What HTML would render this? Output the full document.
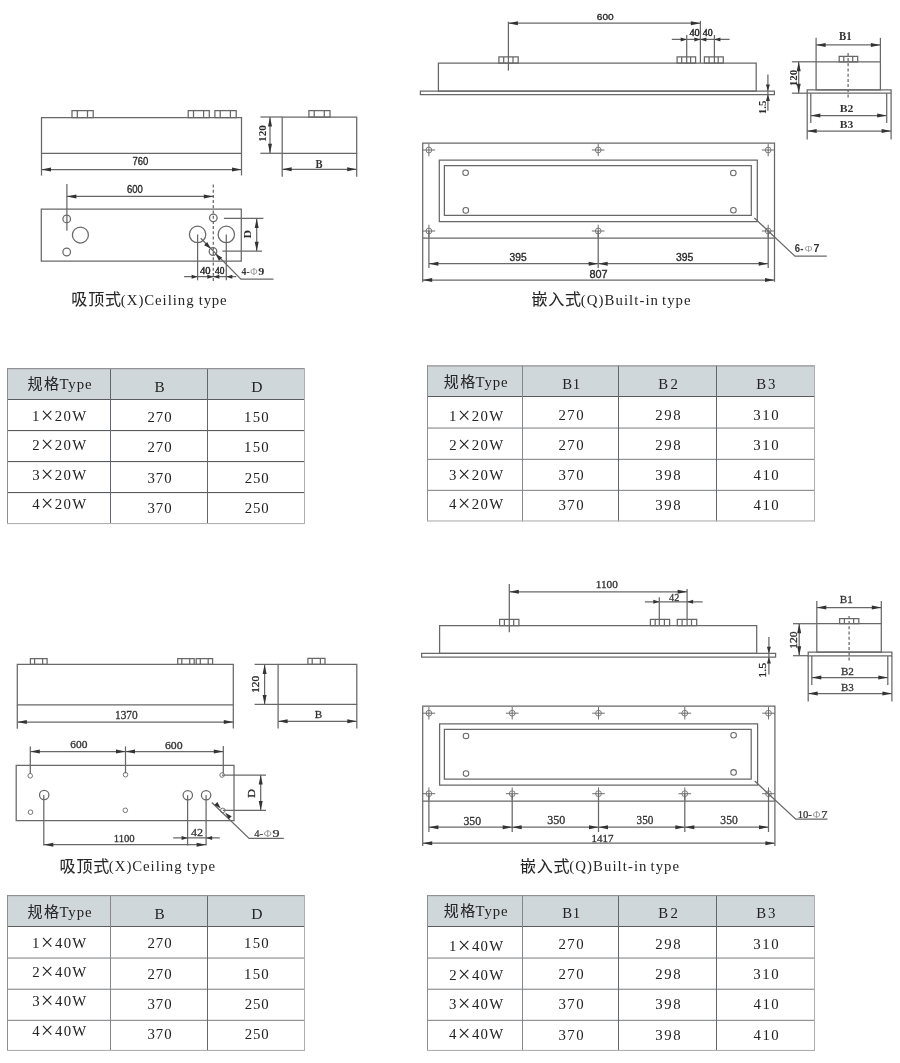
<!DOCTYPE html>
<html lang="zh"><head><meta charset="utf-8"><title>Dimensions</title>
<style>html,body{margin:0;padding:0;background:#fff}svg{display:block;will-change:transform}
.d{fill:none;stroke:#686868;stroke-width:1.25}.d .ar{fill:#333;stroke:none}
text{white-space:pre}</style></head>
<body><svg width="900" height="1063" viewBox="0 0 900 1063">
<g class="d">
<path d="M41.5 117.5H241.5V153.4H41.5Z"/>
<path d="M72.0 110.7H93.2V117.5H72.0Z"/>
<path d="M77.3 110.7L77.3 117.5"/>
<path d="M87.5 110.7L87.5 117.5"/>
<path d="M188.2 110.7H209.3V117.5H188.2Z"/>
<path d="M193.5 110.7L193.5 117.5"/>
<path d="M203.6 110.7L203.6 117.5"/>
<path d="M214.9 110.7H236.2V117.5H214.9Z"/>
<path d="M220.2 110.7L220.2 117.5"/>
<path d="M230.4 110.7L230.4 117.5"/>
<path d="M41.5 153.4L41.5 175.6"/>
<path d="M241.5 153.4L241.5 175.5"/>
<path d="M41.5 169.5L241.5 169.5"/>
<path class="ar" d="M41.5 169.5L51.0 167.5L51.0 171.5Z"/>
<path class="ar" d="M241.5 169.5L232.0 171.5L232.0 167.5Z"/>
<path d="M282.2 117.0H356.7V153.3H282.2Z"/>
<path d="M308.9 110.6H330.0V117.0H308.9Z"/>
<path d="M314.2 110.6L314.2 117.0"/>
<path d="M324.3 110.6L324.3 117.0"/>
<path d="M260.4 117.0L282.2 117.0"/>
<path d="M260.4 153.3L282.2 153.3"/>
<path d="M270.0 117.0L270.0 153.3"/>
<path class="ar" d="M270.0 117.0L272.0 126.5L268.0 126.5Z"/>
<path class="ar" d="M270.0 153.3L268.0 143.8L272.0 143.8Z"/>
<path d="M282.2 153.3L282.2 176.7"/>
<path d="M356.7 153.3L356.7 176.7"/>
<path d="M282.2 169.3L356.7 169.3"/>
<path class="ar" d="M282.2 169.3L291.7 167.3L291.7 171.3Z"/>
<path class="ar" d="M356.7 169.3L347.2 171.3L347.2 167.3Z"/>
<path d="M41.3 209.1H241.3V261.1H41.3Z"/>
<path d="M66.9 184.0L66.9 230.7"/>
<path d="M213.3 184.5L213.3 281.0" stroke-dasharray="3 2.2"/>
<path d="M66.9 196.4L213.3 196.4"/>
<path class="ar" d="M66.9 196.4L76.4 194.4L76.4 198.4Z"/>
<path class="ar" d="M213.3 196.4L203.8 198.4L203.8 194.4Z"/>
<circle cx="66.7" cy="218.9" r="3.8"/>
<circle cx="66.7" cy="252.0" r="3.8"/>
<circle cx="213.3" cy="217.8" r="3.8"/>
<circle cx="213.0" cy="251.5" r="3.8"/>
<circle cx="80.4" cy="235.0" r="8.0"/>
<circle cx="197.6" cy="234.4" r="8.2"/>
<circle cx="226.3" cy="234.4" r="8.2"/>
<path d="M197.6 234.4L197.6 280.3"/>
<path d="M226.3 234.4L226.3 280.3"/>
<path d="M224.0 218.4L263.4 218.4"/>
<path d="M222.5 251.2L262.0 251.2"/>
<path d="M256.7 218.4L256.7 251.2"/>
<path class="ar" d="M256.7 218.4L258.7 227.9L254.7 227.9Z"/>
<path class="ar" d="M256.7 251.2L254.7 241.7L258.7 241.7Z"/>
<path d="M184.1 276.7L236.2 276.7"/>
<path class="ar" d="M197.6 276.7L191.6 278.7L191.6 274.7Z"/>
<path class="ar" d="M213.3 276.7L207.3 278.7L207.3 274.7Z"/>
<path class="ar" d="M213.3 276.7L219.3 274.7L219.3 278.7Z"/>
<path class="ar" d="M226.3 276.7L232.3 274.7L232.3 278.7Z"/>
<path d="M200.7 238.3L240.9 279.1L273.5 279.1"/>
<path class="ar" d="M210.6 248.6L204.1 245.2L207.2 242.1Z"/>
<path class="ar" d="M215.6 254.2L222.1 257.6L219.0 260.7Z"/>
</g>
<text transform="translate(132.51 165.20) scale(0.873 1)" font-family="Liberation Sans" font-size="10.88" fill="#2a2a2a" stroke="#2a2a2a" stroke-width="0.35">760</text>
<text transform="translate(126.92 193.00) scale(0.897 1)" font-family="Liberation Sans" font-size="10.60" fill="#2a2a2a" stroke="#2a2a2a" stroke-width="0.35">600</text>
<text transform="rotate(-90 262.3 133.3) translate(253.71 136.90) scale(1.029 1)" font-family="Liberation Serif" font-size="10.83" font-weight="bold" fill="#2b2b2b">120</text>
<text transform="translate(315.42 168.20) scale(0.890 1)" font-family="Liberation Serif" font-size="11.91" font-weight="bold" fill="#333">B</text>
<text transform="rotate(-90 247.4 234.4) translate(243.29 237.90) scale(1.113 1)" font-family="Liberation Serif" font-size="10.69" font-weight="bold" fill="#2b2b2b">D</text>
<text transform="translate(199.89 274.10) scale(1.008 1)" font-family="Liberation Serif" font-size="10.53" fill="#222" stroke="#222" stroke-width="0.4">40</text>
<text transform="translate(215.02 274.10) scale(0.897 1)" font-family="Liberation Serif" font-size="10.53" fill="#222" stroke="#222" stroke-width="0.4">40</text>
<text transform="translate(241.47 275.20) scale(1.012 1)" font-family="Liberation Serif" font-size="9.72" font-weight="bold" fill="#333">4-</text>
<text transform="translate(250.20 275.20) scale(1.055 1)" font-family="Liberation Serif" font-size="9.47" fill="#9a9a9a">Φ</text>
<text transform="translate(258.27 275.20) scale(1.256 1)" font-family="Liberation Serif" font-size="9.67" font-weight="bold" fill="#333">9</text>
<text x="71.14 88.24 105.02" y="305.2" font-family="'Liberation Sans', 'Noto Sans CJK SC', sans-serif" font-size="16" fill="#262626" stroke="#262626" stroke-width="0.08">吸顶式</text>
<text x="120.85" y="304.70" font-family="Liberation Serif" font-size="14.80" fill="#262626" letter-spacing="0.96">(X)Ceiling</text>
<text x="198.86" y="304.70" font-family="Liberation Serif" font-size="14.80" fill="#262626" letter-spacing="0.73">type</text>
<g class="d">
<path d="M438.4 63.0H756.2V91.0H438.4Z"/>
<path d="M420.4 91.0H774.4V94.6H420.4Z"/>
<path d="M498.9 56.9H518.2V63.0H498.9Z"/>
<path d="M503.7 56.9L503.7 63.0"/>
<path d="M513.0 56.9L513.0 63.0"/>
<path d="M677.1 56.9H695.6V63.0H677.1Z"/>
<path d="M681.7 56.9L681.7 63.0"/>
<path d="M690.6 56.9L690.6 63.0"/>
<path d="M704.4 56.9H723.3V63.0H704.4Z"/>
<path d="M709.1 56.9L709.1 63.0"/>
<path d="M718.2 56.9L718.2 63.0"/>
<path d="M508.4 21.7L508.4 70.6"/>
<path d="M700.4 21.0L700.4 63.0"/>
<path d="M508.4 23.2L700.4 23.2"/>
<path class="ar" d="M508.4 23.2L517.9 21.2L517.9 25.2Z"/>
<path class="ar" d="M700.4 23.2L690.9 25.2L690.9 21.2Z"/>
<path d="M686.7 35.0L686.7 63.9"/>
<path d="M714.4 35.0L714.4 63.9"/>
<path d="M671.8 39.4L729.6 39.4"/>
<path class="ar" d="M686.7 39.4L680.7 41.4L680.7 37.4Z"/>
<path class="ar" d="M700.4 39.4L694.4 41.4L694.4 37.4Z"/>
<path class="ar" d="M700.4 39.4L706.4 37.4L706.4 41.4Z"/>
<path class="ar" d="M714.4 39.4L720.4 37.4L720.4 41.4Z"/>
<path d="M767.9 74.5L767.9 110.7"/>
<path class="ar" d="M767.9 91.0L765.9 84.5L769.9 84.5Z"/>
<path class="ar" d="M767.9 94.6L769.9 101.1L765.9 101.1Z"/>
<path d="M816.1 61.8H880.4V89.9H816.1Z"/>
<path d="M807.2 89.9H891.1V93.2H807.2Z"/>
<path d="M816.1 37.8L816.1 61.8"/>
<path d="M880.4 37.8L880.4 61.8"/>
<path d="M816.1 44.9L880.4 44.9"/>
<path class="ar" d="M816.1 44.9L825.6 42.9L825.6 46.9Z"/>
<path class="ar" d="M880.4 44.9L870.9 46.9L870.9 42.9Z"/>
<path d="M839.2 56.4H857.7V61.8H839.2Z"/>
<path d="M843.8 56.4L843.8 61.8"/>
<path d="M852.7 56.4L852.7 61.8"/>
<path d="M848.1 52.9L848.1 98.2" stroke-dasharray="3 2.2"/>
<path d="M791.9 61.8L816.1 61.8"/>
<path d="M791.9 93.2L807.2 93.2"/>
<path d="M798.7 61.8L798.7 93.2"/>
<path class="ar" d="M798.7 61.8L800.7 71.3L796.7 71.3Z"/>
<path class="ar" d="M798.7 93.2L796.7 83.7L800.7 83.7Z"/>
<path d="M810.8 93.2L810.8 123.1"/>
<path d="M886.7 93.2L886.7 123.1"/>
<path d="M810.8 115.5L886.7 115.5"/>
<path class="ar" d="M810.8 115.5L820.3 113.5L820.3 117.5Z"/>
<path class="ar" d="M886.7 115.5L877.2 117.5L877.2 113.5Z"/>
<path d="M807.2 93.2L807.2 139.5"/>
<path d="M891.1 93.2L891.1 139.5"/>
<path d="M807.2 131.1L891.1 131.1"/>
<path class="ar" d="M807.2 131.1L816.7 129.1L816.7 133.1Z"/>
<path class="ar" d="M891.1 131.1L881.6 133.1L881.6 129.1Z"/>
<path d="M422.7 143.2H774.5V238.2H422.7Z"/>
<path d="M439.3 160.0H757.3V221.7H439.3Z"/>
<path d="M444.4 165.6H751.3V215.4H444.4Z"/>
<circle cx="465.6" cy="172.7" r="2.8" stroke-width="1.05"/>
<circle cx="465.8" cy="210.4" r="2.8" stroke-width="1.05"/>
<circle cx="733.3" cy="173.0" r="2.8" stroke-width="1.05"/>
<circle cx="733.4" cy="210.2" r="2.8" stroke-width="1.05"/>
<circle cx="428.9" cy="150.0" r="2.9" stroke-width="0.85"/>
<path d="M422.6 150.0L435.2 150.0" stroke-width="0.95"/>
<path d="M428.9 143.7L428.9 156.3" stroke-width="0.95"/>
<circle cx="428.9" cy="231.0" r="2.9" stroke-width="0.85"/>
<path d="M422.6 231.0L435.2 231.0" stroke-width="0.95"/>
<path d="M428.9 224.7L428.9 237.3" stroke-width="0.95"/>
<path d="M428.9 231.0L428.9 268.0"/>
<circle cx="598.2" cy="150.0" r="2.9" stroke-width="0.85"/>
<path d="M591.9 150.0L604.5 150.0" stroke-width="0.95"/>
<path d="M598.2 143.7L598.2 156.3" stroke-width="0.95"/>
<circle cx="598.2" cy="231.0" r="2.9" stroke-width="0.85"/>
<path d="M591.9 231.0L604.5 231.0" stroke-width="0.95"/>
<path d="M598.2 224.7L598.2 237.3" stroke-width="0.95"/>
<path d="M598.2 231.0L598.2 268.0"/>
<circle cx="768.2" cy="150.0" r="2.9" stroke-width="0.85"/>
<path d="M761.9 150.0L774.5 150.0" stroke-width="0.95"/>
<path d="M768.2 143.7L768.2 156.3" stroke-width="0.95"/>
<circle cx="768.2" cy="231.0" r="2.9" stroke-width="0.85"/>
<path d="M761.9 231.0L774.5 231.0" stroke-width="0.95"/>
<path d="M768.2 224.7L768.2 237.3" stroke-width="0.95"/>
<path d="M768.2 231.0L768.2 268.0"/>
<path d="M422.7 238.2L422.7 282.2"/>
<path d="M774.5 238.2L774.5 281.8"/>
<path d="M428.9 263.7L768.2 263.7"/>
<path class="ar" d="M428.9 263.7L438.4 261.7L438.4 265.7Z"/>
<path class="ar" d="M598.2 263.7L588.7 265.7L588.7 261.7Z"/>
<path class="ar" d="M598.2 263.7L607.7 261.7L607.7 265.7Z"/>
<path class="ar" d="M768.2 263.7L758.7 265.7L758.7 261.7Z"/>
<path d="M422.7 280.0L774.5 280.0"/>
<path class="ar" d="M422.7 280.0L432.2 278.0L432.2 282.0Z"/>
<path class="ar" d="M774.5 280.0L765.0 282.0L765.0 278.0Z"/>
<path d="M754.4 218.0L794.9 256.1L826.8 256.1"/>
</g>
<text transform="translate(596.79 20.10) scale(1.026 1)" font-family="Liberation Sans" font-size="9.88" fill="#2a2a2a" stroke="#2a2a2a" stroke-width="0.35">600</text>
<text transform="translate(689.40 36.10) scale(0.964 1)" font-family="Liberation Serif" font-size="10.68" fill="#222" stroke="#222" stroke-width="0.4">40</text>
<text transform="translate(702.71 36.10) scale(0.924 1)" font-family="Liberation Serif" font-size="10.68" fill="#222" stroke="#222" stroke-width="0.4">40</text>
<text transform="rotate(-90 762.2 107.1) translate(755.12 110.50) scale(1.062 1)" font-family="Liberation Serif" font-size="10.30" font-weight="bold" fill="#2b2b2b">1.5</text>
<text transform="translate(839.02 40.40) scale(0.941 1)" font-family="Liberation Serif" font-size="11.51" font-weight="bold" fill="#333">B1</text>
<text transform="translate(839.71 112.10) scale(1.095 1)" font-family="Liberation Serif" font-size="10.72" font-weight="bold" fill="#333">B2</text>
<text transform="translate(839.71 128.10) scale(1.134 1)" font-family="Liberation Serif" font-size="10.27" font-weight="bold" fill="#333">B3</text>
<text transform="rotate(-90 793.0 77.8) translate(784.57 81.40) scale(1.009 1)" font-family="Liberation Serif" font-size="10.83" font-weight="bold" fill="#2b2b2b">120</text>
<text transform="translate(509.61 261.10) scale(0.976 1)" font-family="Liberation Sans" font-size="10.45" fill="#2a2a2a" stroke="#2a2a2a" stroke-width="0.35">395</text>
<text transform="translate(676.00 260.60) scale(1.014 1)" font-family="Liberation Sans" font-size="10.31" fill="#2a2a2a" stroke="#2a2a2a" stroke-width="0.35">395</text>
<text transform="translate(589.53 278.40) scale(1.011 1)" font-family="Liberation Sans" font-size="10.74" fill="#2a2a2a" stroke="#2a2a2a" stroke-width="0.35">807</text>
<text transform="translate(794.85 252.20) scale(0.958 1)" font-family="Liberation Sans" font-size="10.03" font-weight="bold" fill="#333">6-</text>
<text transform="translate(804.42 252.20) scale(1.074 1)" font-family="Liberation Sans" font-size="9.53" fill="#9a9a9a">Φ</text>
<text transform="translate(813.54 252.20) scale(1.047 1)" font-family="Liberation Sans" font-size="10.17" font-weight="bold" fill="#333">7</text>
<text x="531.48 548.16 565.02" y="305.3" font-family="'Liberation Sans', 'Noto Sans CJK SC', sans-serif" font-size="16" fill="#262626" stroke="#262626" stroke-width="0.08">嵌入式</text>
<text x="580.85" y="304.80" font-family="Liberation Serif" font-size="14.80" fill="#262626" letter-spacing="1.06">(Q)Built-in</text>
<text x="662.06" y="304.80" font-family="Liberation Serif" font-size="14.80" fill="#262626" letter-spacing="0.99">type</text>
<rect x="7" y="368" width="298" height="31" fill="#d0d7db"/>
<rect x="7" y="399" width="298" height="1" fill="#595b5d"/>
<rect x="7" y="430" width="298" height="1.1" fill="#595b5d"/>
<rect x="7" y="461" width="298" height="1.1" fill="#595b5d"/>
<rect x="7" y="492" width="298" height="1.1" fill="#595b5d"/>
<rect x="110" y="368" width="1" height="156" fill="#63666a"/>
<rect x="207" y="368" width="1" height="156" fill="#63666a"/>
<rect x="7" y="368" width="298" height="1.2" fill="#929294"/>
<rect x="7" y="368" width="1" height="156" fill="#8e8e90"/>
<rect x="304" y="368" width="1" height="156" fill="#adadaf"/>
<rect x="7" y="523" width="298" height="1.1" fill="#b0b0b2"/>
<text x="27.54 44.06" y="389.45" font-family="'Liberation Sans', 'Noto Sans CJK SC', sans-serif" font-size="15" fill="#262626" stroke="#262626" stroke-width="0.075">规格</text>
<text x="59.43" y="389.20" font-family="Liberation Serif" font-size="14.80" fill="#222" letter-spacing="0.92">Type</text>
<text transform="translate(31.99 421.20) scale(1.000 1)" font-family="Liberation Serif" font-size="14.80" fill="#222">1</text>
<text x="40.81" y="423.22" font-family="Liberation Serif" font-size="22.60" fill="#262626">×</text>
<text x="54.75" y="421.20" font-family="Liberation Serif" font-size="14.80" fill="#222" letter-spacing="1.36">20W</text>
<text transform="translate(32.28 450.20) scale(1.000 1)" font-family="Liberation Serif" font-size="14.80" fill="#222">2</text>
<text x="40.81" y="452.22" font-family="Liberation Serif" font-size="22.60" fill="#262626">×</text>
<text x="54.75" y="450.20" font-family="Liberation Serif" font-size="14.80" fill="#222" letter-spacing="1.36">20W</text>
<text transform="translate(32.13 479.60) scale(1.000 1)" font-family="Liberation Serif" font-size="14.80" fill="#222">3</text>
<text x="40.81" y="481.62" font-family="Liberation Serif" font-size="22.60" fill="#262626">×</text>
<text x="54.75" y="479.60" font-family="Liberation Serif" font-size="14.80" fill="#222" letter-spacing="1.36">20W</text>
<text transform="translate(32.17 508.70) scale(1.000 1)" font-family="Liberation Serif" font-size="14.80" fill="#222">4</text>
<text x="40.81" y="510.72" font-family="Liberation Serif" font-size="22.60" fill="#262626">×</text>
<text x="54.75" y="508.70" font-family="Liberation Serif" font-size="14.80" fill="#222" letter-spacing="1.36">20W</text>
<text transform="translate(154.56 391.90) scale(1.032 1)" font-family="Liberation Serif" font-size="14.80" fill="#222">B</text>
<text transform="translate(251.25 391.90) scale(1.055 1)" font-family="Liberation Serif" font-size="14.80" fill="#222">D</text>
<text x="147.55" y="421.60" font-family="Liberation Serif" font-size="14.80" fill="#222" letter-spacing="0.91">270</text>
<text x="244.10" y="421.60" font-family="Liberation Serif" font-size="14.80" fill="#222" letter-spacing="1.23">150</text>
<text x="147.55" y="452.20" font-family="Liberation Serif" font-size="14.80" fill="#222" letter-spacing="0.91">270</text>
<text x="244.10" y="452.20" font-family="Liberation Serif" font-size="14.80" fill="#222" letter-spacing="1.23">150</text>
<text x="147.49" y="482.60" font-family="Liberation Serif" font-size="14.80" fill="#222" letter-spacing="0.94">370</text>
<text x="244.75" y="482.60" font-family="Liberation Serif" font-size="14.80" fill="#222" letter-spacing="0.91">250</text>
<text x="147.49" y="512.80" font-family="Liberation Serif" font-size="14.80" fill="#222" letter-spacing="0.94">370</text>
<text x="244.75" y="512.80" font-family="Liberation Serif" font-size="14.80" fill="#222" letter-spacing="0.91">250</text>
<rect x="7" y="895" width="298" height="31" fill="#d0d7db"/>
<rect x="7" y="926" width="298" height="1" fill="#595b5d"/>
<rect x="7" y="957.5" width="298" height="1.1" fill="#868889"/>
<rect x="7" y="988.7" width="298" height="1.1" fill="#868889"/>
<rect x="7" y="1019.8" width="298" height="1.1" fill="#868889"/>
<rect x="110" y="895" width="1" height="155.9000000000001" fill="#85878a"/>
<rect x="207" y="895" width="1" height="155.9000000000001" fill="#63666a"/>
<rect x="7" y="895" width="298" height="1.2" fill="#929294"/>
<rect x="7" y="895" width="1" height="155.9000000000001" fill="#8e8e90"/>
<rect x="304" y="895" width="1" height="155.9000000000001" fill="#adadaf"/>
<rect x="7" y="1049.9" width="298" height="1.1" fill="#b0b0b2"/>
<text x="27.54 44.06" y="916.75" font-family="'Liberation Sans', 'Noto Sans CJK SC', sans-serif" font-size="15" fill="#262626" stroke="#262626" stroke-width="0.075">规格</text>
<text x="59.43" y="916.50" font-family="Liberation Serif" font-size="14.80" fill="#222" letter-spacing="0.92">Type</text>
<text transform="translate(31.99 947.70) scale(1.000 1)" font-family="Liberation Serif" font-size="14.80" fill="#222">1</text>
<text x="40.81" y="949.72" font-family="Liberation Serif" font-size="22.60" fill="#262626">×</text>
<text x="55.11" y="947.70" font-family="Liberation Serif" font-size="14.80" fill="#222" letter-spacing="1.17">40W</text>
<text transform="translate(32.28 977.00) scale(1.000 1)" font-family="Liberation Serif" font-size="14.80" fill="#222">2</text>
<text x="40.81" y="979.02" font-family="Liberation Serif" font-size="22.60" fill="#262626">×</text>
<text x="55.11" y="977.00" font-family="Liberation Serif" font-size="14.80" fill="#222" letter-spacing="1.17">40W</text>
<text transform="translate(32.13 1006.30) scale(1.000 1)" font-family="Liberation Serif" font-size="14.80" fill="#222">3</text>
<text x="40.81" y="1008.32" font-family="Liberation Serif" font-size="22.60" fill="#262626">×</text>
<text x="55.11" y="1006.30" font-family="Liberation Serif" font-size="14.80" fill="#222" letter-spacing="1.17">40W</text>
<text transform="translate(32.17 1035.70) scale(1.000 1)" font-family="Liberation Serif" font-size="14.80" fill="#222">4</text>
<text x="40.81" y="1037.72" font-family="Liberation Serif" font-size="22.60" fill="#262626">×</text>
<text x="55.11" y="1035.70" font-family="Liberation Serif" font-size="14.80" fill="#222" letter-spacing="1.17">40W</text>
<text transform="translate(154.56 919.20) scale(1.032 1)" font-family="Liberation Serif" font-size="14.80" fill="#222">B</text>
<text transform="translate(251.25 919.00) scale(1.055 1)" font-family="Liberation Serif" font-size="14.80" fill="#222">D</text>
<text x="147.55" y="948.10" font-family="Liberation Serif" font-size="14.80" fill="#222" letter-spacing="0.91">270</text>
<text x="244.10" y="948.10" font-family="Liberation Serif" font-size="14.80" fill="#222" letter-spacing="1.23">150</text>
<text x="147.55" y="978.60" font-family="Liberation Serif" font-size="14.80" fill="#222" letter-spacing="0.91">270</text>
<text x="244.10" y="978.60" font-family="Liberation Serif" font-size="14.80" fill="#222" letter-spacing="1.23">150</text>
<text x="147.49" y="1008.90" font-family="Liberation Serif" font-size="14.80" fill="#222" letter-spacing="0.94">370</text>
<text x="244.75" y="1008.90" font-family="Liberation Serif" font-size="14.80" fill="#222" letter-spacing="0.91">250</text>
<text x="147.49" y="1039.30" font-family="Liberation Serif" font-size="14.80" fill="#222" letter-spacing="0.94">370</text>
<text x="244.75" y="1039.30" font-family="Liberation Serif" font-size="14.80" fill="#222" letter-spacing="0.91">250</text>
<rect x="427" y="365.3" width="388" height="30.69999999999999" fill="#d0d7db"/>
<rect x="427" y="396" width="388" height="1" fill="#595b5d"/>
<rect x="427" y="427.5" width="388" height="1.1" fill="#868889"/>
<rect x="427" y="458.8" width="388" height="1.1" fill="#868889"/>
<rect x="427" y="489.8" width="388" height="1.1" fill="#868889"/>
<rect x="522" y="365.3" width="1" height="156.09999999999997" fill="#85878a"/>
<rect x="618" y="365.3" width="1" height="156.09999999999997" fill="#63666a"/>
<rect x="716" y="365.3" width="1" height="156.09999999999997" fill="#63666a"/>
<rect x="427" y="365.3" width="388" height="1.2" fill="#929294"/>
<rect x="427" y="365.3" width="1" height="156.09999999999997" fill="#8e8e90"/>
<rect x="814" y="365.3" width="1" height="156.09999999999997" fill="#adadaf"/>
<rect x="427" y="520.4" width="388" height="1.1" fill="#b0b0b2"/>
<text x="443.64 460.16" y="387.05" font-family="'Liberation Sans', 'Noto Sans CJK SC', sans-serif" font-size="15" fill="#262626" stroke="#262626" stroke-width="0.075">规格</text>
<text x="475.53" y="386.80" font-family="Liberation Serif" font-size="14.80" fill="#222" letter-spacing="0.92">Type</text>
<text transform="translate(448.89 420.50) scale(1.000 1)" font-family="Liberation Serif" font-size="14.80" fill="#222">1</text>
<text x="457.71" y="422.52" font-family="Liberation Serif" font-size="22.60" fill="#262626">×</text>
<text x="471.65" y="420.50" font-family="Liberation Serif" font-size="14.80" fill="#222" letter-spacing="1.36">20W</text>
<text transform="translate(449.18 450.40) scale(1.000 1)" font-family="Liberation Serif" font-size="14.80" fill="#222">2</text>
<text x="457.71" y="452.42" font-family="Liberation Serif" font-size="22.60" fill="#262626">×</text>
<text x="471.65" y="450.40" font-family="Liberation Serif" font-size="14.80" fill="#222" letter-spacing="1.36">20W</text>
<text transform="translate(449.03 479.60) scale(1.000 1)" font-family="Liberation Serif" font-size="14.80" fill="#222">3</text>
<text x="457.71" y="481.62" font-family="Liberation Serif" font-size="22.60" fill="#262626">×</text>
<text x="471.65" y="479.60" font-family="Liberation Serif" font-size="14.80" fill="#222" letter-spacing="1.36">20W</text>
<text transform="translate(449.07 508.70) scale(1.000 1)" font-family="Liberation Serif" font-size="14.80" fill="#222">4</text>
<text x="457.71" y="510.72" font-family="Liberation Serif" font-size="22.60" fill="#262626">×</text>
<text x="471.65" y="508.70" font-family="Liberation Serif" font-size="14.80" fill="#222" letter-spacing="1.36">20W</text>
<text x="562.17" y="388.90" font-family="Liberation Serif" font-size="14.80" fill="#222" letter-spacing="0.64">B1</text>
<text x="658.37" y="388.90" font-family="Liberation Serif" font-size="14.80" fill="#222" letter-spacing="2.37">B2</text>
<text x="756.37" y="388.90" font-family="Liberation Serif" font-size="14.80" fill="#222" letter-spacing="1.73">B3</text>
<text x="558.55" y="419.60" font-family="Liberation Serif" font-size="14.80" fill="#222" letter-spacing="1.41">270</text>
<text x="655.25" y="419.60" font-family="Liberation Serif" font-size="14.80" fill="#222" letter-spacing="1.61">298</text>
<text x="753.19" y="419.60" font-family="Liberation Serif" font-size="14.80" fill="#222" letter-spacing="1.64">310</text>
<text x="558.55" y="449.50" font-family="Liberation Serif" font-size="14.80" fill="#222" letter-spacing="1.41">270</text>
<text x="655.25" y="449.50" font-family="Liberation Serif" font-size="14.80" fill="#222" letter-spacing="1.61">298</text>
<text x="753.19" y="449.50" font-family="Liberation Serif" font-size="14.80" fill="#222" letter-spacing="1.64">310</text>
<text x="558.49" y="479.80" font-family="Liberation Serif" font-size="14.80" fill="#222" letter-spacing="1.44">370</text>
<text x="655.19" y="479.80" font-family="Liberation Serif" font-size="14.80" fill="#222" letter-spacing="1.64">398</text>
<text x="753.61" y="479.80" font-family="Liberation Serif" font-size="14.80" fill="#222" letter-spacing="1.43">410</text>
<text x="558.49" y="510.20" font-family="Liberation Serif" font-size="14.80" fill="#222" letter-spacing="1.44">370</text>
<text x="655.19" y="510.20" font-family="Liberation Serif" font-size="14.80" fill="#222" letter-spacing="1.64">398</text>
<text x="753.61" y="510.20" font-family="Liberation Serif" font-size="14.80" fill="#222" letter-spacing="1.43">410</text>
<rect x="427" y="895" width="388" height="31" fill="#d0d7db"/>
<rect x="427" y="926" width="388" height="1" fill="#595b5d"/>
<rect x="427" y="957.5" width="388" height="1.1" fill="#868889"/>
<rect x="427" y="988.7" width="388" height="1.1" fill="#868889"/>
<rect x="427" y="1019.8" width="388" height="1.1" fill="#868889"/>
<rect x="522" y="895" width="1" height="155.9000000000001" fill="#85878a"/>
<rect x="618" y="895" width="1" height="155.9000000000001" fill="#63666a"/>
<rect x="716" y="895" width="1" height="155.9000000000001" fill="#63666a"/>
<rect x="427" y="895" width="388" height="1.2" fill="#929294"/>
<rect x="427" y="895" width="1" height="155.9000000000001" fill="#8e8e90"/>
<rect x="814" y="895" width="1" height="155.9000000000001" fill="#adadaf"/>
<rect x="427" y="1049.9" width="388" height="1.1" fill="#b0b0b2"/>
<text x="443.64 460.16" y="916.35" font-family="'Liberation Sans', 'Noto Sans CJK SC', sans-serif" font-size="15" fill="#262626" stroke="#262626" stroke-width="0.075">规格</text>
<text x="475.53" y="916.10" font-family="Liberation Serif" font-size="14.80" fill="#222" letter-spacing="0.92">Type</text>
<text transform="translate(448.89 950.50) scale(1.000 1)" font-family="Liberation Serif" font-size="14.80" fill="#222">1</text>
<text x="457.71" y="952.52" font-family="Liberation Serif" font-size="22.60" fill="#262626">×</text>
<text x="472.01" y="950.50" font-family="Liberation Serif" font-size="14.80" fill="#222" letter-spacing="1.17">40W</text>
<text transform="translate(449.18 979.70) scale(1.000 1)" font-family="Liberation Serif" font-size="14.80" fill="#222">2</text>
<text x="457.71" y="981.72" font-family="Liberation Serif" font-size="22.60" fill="#262626">×</text>
<text x="472.01" y="979.70" font-family="Liberation Serif" font-size="14.80" fill="#222" letter-spacing="1.17">40W</text>
<text transform="translate(449.03 1008.90) scale(1.000 1)" font-family="Liberation Serif" font-size="14.80" fill="#222">3</text>
<text x="457.71" y="1010.92" font-family="Liberation Serif" font-size="22.60" fill="#262626">×</text>
<text x="472.01" y="1008.90" font-family="Liberation Serif" font-size="14.80" fill="#222" letter-spacing="1.17">40W</text>
<text transform="translate(449.07 1038.50) scale(1.000 1)" font-family="Liberation Serif" font-size="14.80" fill="#222">4</text>
<text x="457.71" y="1040.52" font-family="Liberation Serif" font-size="22.60" fill="#262626">×</text>
<text x="472.01" y="1038.50" font-family="Liberation Serif" font-size="14.80" fill="#222" letter-spacing="1.17">40W</text>
<text x="562.17" y="918.40" font-family="Liberation Serif" font-size="14.80" fill="#222" letter-spacing="0.64">B1</text>
<text x="658.37" y="918.40" font-family="Liberation Serif" font-size="14.80" fill="#222" letter-spacing="2.37">B2</text>
<text x="756.37" y="918.40" font-family="Liberation Serif" font-size="14.80" fill="#222" letter-spacing="1.73">B3</text>
<text x="558.55" y="949.20" font-family="Liberation Serif" font-size="14.80" fill="#222" letter-spacing="1.41">270</text>
<text x="655.25" y="949.20" font-family="Liberation Serif" font-size="14.80" fill="#222" letter-spacing="1.61">298</text>
<text x="753.19" y="949.20" font-family="Liberation Serif" font-size="14.80" fill="#222" letter-spacing="1.64">310</text>
<text x="558.55" y="979.00" font-family="Liberation Serif" font-size="14.80" fill="#222" letter-spacing="1.41">270</text>
<text x="655.25" y="979.00" font-family="Liberation Serif" font-size="14.80" fill="#222" letter-spacing="1.61">298</text>
<text x="753.19" y="979.00" font-family="Liberation Serif" font-size="14.80" fill="#222" letter-spacing="1.64">310</text>
<text x="558.49" y="1009.40" font-family="Liberation Serif" font-size="14.80" fill="#222" letter-spacing="1.44">370</text>
<text x="655.19" y="1009.40" font-family="Liberation Serif" font-size="14.80" fill="#222" letter-spacing="1.64">398</text>
<text x="753.61" y="1009.40" font-family="Liberation Serif" font-size="14.80" fill="#222" letter-spacing="1.43">410</text>
<text x="558.49" y="1039.70" font-family="Liberation Serif" font-size="14.80" fill="#222" letter-spacing="1.44">370</text>
<text x="655.19" y="1039.70" font-family="Liberation Serif" font-size="14.80" fill="#222" letter-spacing="1.64">398</text>
<text x="753.61" y="1039.70" font-family="Liberation Serif" font-size="14.80" fill="#222" letter-spacing="1.43">410</text>
<g class="d">
<path d="M17.3 664.4H233.3V704.9H17.3Z"/>
<path d="M30.4 658.6H47.1V664.4H30.4Z"/>
<path d="M34.6 658.6L34.6 664.4"/>
<path d="M42.6 658.6L42.6 664.4"/>
<path d="M177.7 658.6H194.2V664.4H177.7Z"/>
<path d="M181.8 658.6L181.8 664.4"/>
<path d="M189.7 658.6L189.7 664.4"/>
<path d="M196.2 658.6H212.6V664.4H196.2Z"/>
<path d="M200.3 658.6L200.3 664.4"/>
<path d="M208.2 658.6L208.2 664.4"/>
<path d="M17.3 704.9L17.3 728.8"/>
<path d="M233.3 704.9L233.3 728.6"/>
<path d="M17.3 722.0L233.3 722.0"/>
<path class="ar" d="M17.3 722.0L26.8 720.0L26.8 724.0Z"/>
<path class="ar" d="M233.3 722.0L223.8 724.0L223.8 720.0Z"/>
<path d="M278.1 664.4H356.8V704.4H278.1Z"/>
<path d="M307.9 658.4H325.0V664.4H307.9Z"/>
<path d="M312.2 658.4L312.2 664.4"/>
<path d="M320.4 658.4L320.4 664.4"/>
<path d="M254.6 664.4L278.1 664.4"/>
<path d="M254.6 704.4L278.1 704.4"/>
<path d="M264.6 664.4L264.6 704.4"/>
<path class="ar" d="M264.6 664.4L266.6 673.9L262.6 673.9Z"/>
<path class="ar" d="M264.6 704.4L262.6 694.9L266.6 694.9Z"/>
<path d="M278.1 704.4L278.1 728.5"/>
<path d="M356.8 704.4L356.8 728.5"/>
<path d="M278.1 721.3L356.8 721.3"/>
<path class="ar" d="M278.1 721.3L287.6 719.3L287.6 723.3Z"/>
<path class="ar" d="M356.8 721.3L347.3 723.3L347.3 719.3Z"/>
<path d="M16.2 765.3H234.0V820.6H16.2Z"/>
<path d="M30.3 746.5L30.3 773.7"/>
<path d="M125.5 746.5L125.5 773.3"/>
<path d="M223.3 746.0L223.3 773.6"/>
<path d="M30.3 751.5L223.3 751.5"/>
<path class="ar" d="M30.3 751.5L39.8 749.5L39.8 753.5Z"/>
<path class="ar" d="M125.5 751.5L116.0 753.5L116.0 749.5Z"/>
<path class="ar" d="M125.5 751.5L135.0 749.5L135.0 753.5Z"/>
<path class="ar" d="M223.3 751.5L213.8 753.5L213.8 749.5Z"/>
<circle cx="30.2" cy="775.8" r="2.3" stroke-width="0.9"/>
<circle cx="125.5" cy="774.7" r="2.3" stroke-width="0.9"/>
<circle cx="222.1" cy="775.0" r="2.3" stroke-width="0.9"/>
<circle cx="30.5" cy="812.2" r="2.3" stroke-width="0.9"/>
<circle cx="125.3" cy="810.3" r="2.3" stroke-width="0.9"/>
<circle cx="222.8" cy="810.4" r="2.3" stroke-width="0.9"/>
<circle cx="44.2" cy="795.0" r="4.7"/>
<circle cx="187.8" cy="795.2" r="4.7"/>
<circle cx="206.1" cy="795.2" r="4.7"/>
<path d="M43.8 795.0L43.8 845.5"/>
<path d="M187.6 795.2L187.6 845.6"/>
<path d="M206.1 795.2L206.1 845.6"/>
<path d="M43.8 844.7L206.1 844.7"/>
<path class="ar" d="M43.8 844.7L53.3 842.7L53.3 846.7Z"/>
<path class="ar" d="M206.1 844.7L196.6 846.7L196.6 842.7Z"/>
<path d="M173.2 837.9L219.8 837.9"/>
<path class="ar" d="M187.6 837.9L181.6 839.9L181.6 835.9Z"/>
<path class="ar" d="M206.1 837.9L212.1 835.9L212.1 839.9Z"/>
<path d="M222.0 775.0L266.0 775.0"/>
<path d="M222.8 810.4L266.0 810.4"/>
<path d="M260.7 775.0L260.7 810.4"/>
<path class="ar" d="M260.7 775.0L262.7 784.5L258.7 784.5Z"/>
<path class="ar" d="M260.7 810.4L258.7 800.9L262.7 800.9Z"/>
<path d="M211.8 802.5L249.1 838.4L283.8 838.4"/>
<path class="ar" d="M220.8 808.4L214.3 805.0L217.4 801.9Z"/>
<path class="ar" d="M225.2 812.8L231.7 816.2L228.6 819.3Z"/>
</g>
<text transform="translate(115.00 719.30) scale(0.982 1)" font-family="Liberation Serif" font-size="11.58" fill="#333" stroke="#333" stroke-width="0.3">1370</text>
<text transform="rotate(-90 255.0 684.0) translate(246.20 687.60) scale(1.049 1)" font-family="Liberation Serif" font-size="10.83" fill="#2b2b2b" stroke="#2b2b2b" stroke-width="0.3">120</text>
<text transform="translate(314.78 717.80) scale(1.018 1)" font-family="Liberation Serif" font-size="11.00" fill="#333" stroke="#333" stroke-width="0.25">B</text>
<text transform="translate(70.31 747.80) scale(1.055 1)" font-family="Liberation Serif" font-size="10.83" fill="#333" stroke="#333" stroke-width="0.3">600</text>
<text transform="translate(164.99 748.70) scale(1.087 1)" font-family="Liberation Serif" font-size="10.83" fill="#333" stroke="#333" stroke-width="0.3">600</text>
<text transform="translate(113.76 841.50) scale(1.014 1)" font-family="Liberation Serif" font-size="10.53" fill="#333" stroke="#333" stroke-width="0.3">1100</text>
<text transform="translate(191.06 836.30) scale(1.162 1)" font-family="Liberation Serif" font-size="10.42" fill="#333" stroke="#333" stroke-width="0.25">42</text>
<text transform="rotate(-90 251.6 793.6) translate(247.36 797.10) scale(1.117 1)" font-family="Liberation Serif" font-size="10.69" fill="#2b2b2b" stroke="#2b2b2b" stroke-width="0.3">D</text>
<text transform="translate(254.19 837.20) scale(1.021 1)" font-family="Liberation Serif" font-size="10.33" fill="#333" stroke="#333" stroke-width="0.25">4-</text>
<text transform="translate(263.67 837.20) scale(1.114 1)" font-family="Liberation Serif" font-size="9.77" fill="#9a9a9a">Φ</text>
<text transform="translate(272.55 837.20) scale(1.369 1)" font-family="Liberation Serif" font-size="10.27" fill="#333" stroke="#333" stroke-width="0.25">9</text>
<text x="59.44 76.44 93.32" y="871.9" font-family="'Liberation Sans', 'Noto Sans CJK SC', sans-serif" font-size="16" fill="#262626" stroke="#262626" stroke-width="0.08">吸顶式</text>
<text x="108.85" y="871.20" font-family="Liberation Serif" font-size="14.80" fill="#262626" letter-spacing="0.96">(X)Ceiling</text>
<text x="186.86" y="871.20" font-family="Liberation Serif" font-size="14.80" fill="#262626" letter-spacing="0.89">type</text>
<g class="d">
<path d="M439.6 625.6H756.7V653.3H439.6Z"/>
<path d="M421.6 653.3H775.6V657.1H421.6Z"/>
<path d="M499.6 619.3H518.9V625.6H499.6Z"/>
<path d="M504.4 619.3L504.4 625.6"/>
<path d="M513.7 619.3L513.7 625.6"/>
<path d="M650.4 619.3H669.6V625.6H650.4Z"/>
<path d="M655.2 619.3L655.2 625.6"/>
<path d="M664.4 619.3L664.4 625.6"/>
<path d="M677.3 619.3H696.7V625.6H677.3Z"/>
<path d="M682.1 619.3L682.1 625.6"/>
<path d="M691.5 619.3L691.5 625.6"/>
<path d="M509.3 584.0L509.3 632.2"/>
<path d="M687.1 588.9L687.1 625.6"/>
<path d="M509.3 591.8L687.1 591.8"/>
<path class="ar" d="M509.3 591.8L518.8 589.8L518.8 593.8Z"/>
<path class="ar" d="M687.1 591.8L677.6 593.8L677.6 589.8Z"/>
<path d="M659.3 597.3L659.3 625.6"/>
<path d="M644.9 601.8L702.7 601.8"/>
<path class="ar" d="M659.3 601.8L653.3 603.8L653.3 599.8Z"/>
<path class="ar" d="M687.1 601.8L693.1 599.8L693.1 603.8Z"/>
<path d="M768.9 637.1L768.9 674.4"/>
<path class="ar" d="M768.9 653.3L766.9 646.8L770.9 646.8Z"/>
<path class="ar" d="M768.9 657.1L770.9 663.6L766.9 663.6Z"/>
<path d="M816.8 623.7H881.3V652.0H816.8Z"/>
<path d="M808.2 652.0H891.9V655.9H808.2Z"/>
<path d="M816.8 601.1L816.8 623.7"/>
<path d="M881.3 601.1L881.3 623.7"/>
<path d="M816.8 607.6L881.3 607.6"/>
<path class="ar" d="M816.8 607.6L826.3 605.6L826.3 609.6Z"/>
<path class="ar" d="M881.3 607.6L871.8 609.6L871.8 605.6Z"/>
<path d="M839.6 618.5H858.8V623.7H839.6Z"/>
<path d="M844.4 618.5L844.4 623.7"/>
<path d="M853.6 618.5L853.6 623.7"/>
<path d="M849.1 615.9L849.1 661.0" stroke-dasharray="3 2.2"/>
<path d="M793.0 623.7L816.8 623.7"/>
<path d="M793.0 655.7L808.2 655.7"/>
<path d="M799.2 623.7L799.2 655.7"/>
<path class="ar" d="M799.2 623.7L801.2 633.2L797.2 633.2Z"/>
<path class="ar" d="M799.2 655.7L797.2 646.2L801.2 646.2Z"/>
<path d="M811.8 655.9L811.8 685.1"/>
<path d="M887.8 655.9L887.8 685.1"/>
<path d="M811.8 677.6L887.8 677.6"/>
<path class="ar" d="M811.8 677.6L821.3 675.6L821.3 679.6Z"/>
<path class="ar" d="M887.8 677.6L878.3 679.6L878.3 675.6Z"/>
<path d="M808.2 655.9L808.2 701.4"/>
<path d="M891.9 655.9L891.9 701.4"/>
<path d="M808.2 693.6L891.9 693.6"/>
<path class="ar" d="M808.2 693.6L817.7 691.6L817.7 695.6Z"/>
<path class="ar" d="M891.9 693.6L882.4 695.6L882.4 691.6Z"/>
<path d="M422.7 706.2H774.9V801.2H422.7Z"/>
<path d="M439.6 723.8H757.6V785.1H439.6Z"/>
<path d="M444.4 729.3H751.2V779.0H444.4Z"/>
<circle cx="466.0" cy="736.0" r="2.8" stroke-width="1.05"/>
<circle cx="466.0" cy="773.6" r="2.8" stroke-width="1.05"/>
<circle cx="733.6" cy="735.2" r="2.8" stroke-width="1.05"/>
<circle cx="733.6" cy="772.4" r="2.8" stroke-width="1.05"/>
<circle cx="428.9" cy="713.2" r="2.9" stroke-width="0.85"/>
<path d="M422.6 713.2L435.2 713.2" stroke-width="0.95"/>
<path d="M428.9 706.9L428.9 719.5" stroke-width="0.95"/>
<circle cx="428.9" cy="793.7" r="2.9" stroke-width="0.85"/>
<path d="M422.6 793.7L435.2 793.7" stroke-width="0.95"/>
<path d="M428.9 787.4L428.9 800.0" stroke-width="0.95"/>
<path d="M428.9 793.7L428.9 832.0"/>
<circle cx="512.2" cy="713.2" r="2.9" stroke-width="0.85"/>
<path d="M505.9 713.2L518.5 713.2" stroke-width="0.95"/>
<path d="M512.2 706.9L512.2 719.5" stroke-width="0.95"/>
<circle cx="512.2" cy="793.7" r="2.9" stroke-width="0.85"/>
<path d="M505.9 793.7L518.5 793.7" stroke-width="0.95"/>
<path d="M512.2 787.4L512.2 800.0" stroke-width="0.95"/>
<path d="M512.2 793.7L512.2 832.0"/>
<circle cx="598.5" cy="713.2" r="2.9" stroke-width="0.85"/>
<path d="M592.2 713.2L604.8 713.2" stroke-width="0.95"/>
<path d="M598.5 706.9L598.5 719.5" stroke-width="0.95"/>
<circle cx="598.5" cy="793.7" r="2.9" stroke-width="0.85"/>
<path d="M592.2 793.7L604.8 793.7" stroke-width="0.95"/>
<path d="M598.5 787.4L598.5 800.0" stroke-width="0.95"/>
<path d="M598.5 793.7L598.5 832.0"/>
<circle cx="684.8" cy="713.2" r="2.9" stroke-width="0.85"/>
<path d="M678.5 713.2L691.1 713.2" stroke-width="0.95"/>
<path d="M684.8 706.9L684.8 719.5" stroke-width="0.95"/>
<circle cx="684.8" cy="793.7" r="2.9" stroke-width="0.85"/>
<path d="M678.5 793.7L691.1 793.7" stroke-width="0.95"/>
<path d="M684.8 787.4L684.8 800.0" stroke-width="0.95"/>
<path d="M684.8 793.7L684.8 832.0"/>
<circle cx="768.5" cy="713.2" r="2.9" stroke-width="0.85"/>
<path d="M762.2 713.2L774.8 713.2" stroke-width="0.95"/>
<path d="M768.5 706.9L768.5 719.5" stroke-width="0.95"/>
<circle cx="768.5" cy="793.7" r="2.9" stroke-width="0.85"/>
<path d="M762.2 793.7L774.8 793.7" stroke-width="0.95"/>
<path d="M768.5 787.4L768.5 800.0" stroke-width="0.95"/>
<path d="M768.5 793.7L768.5 832.0"/>
<path d="M422.7 801.2L422.7 846.0"/>
<path d="M774.9 801.2L774.9 846.0"/>
<path d="M428.9 827.2L768.5 827.2"/>
<path class="ar" d="M428.9 827.2L438.4 825.2L438.4 829.2Z"/>
<path class="ar" d="M512.2 827.2L502.7 829.2L502.7 825.2Z"/>
<path class="ar" d="M512.2 827.2L521.7 825.2L521.7 829.2Z"/>
<path class="ar" d="M598.5 827.2L589.0 829.2L589.0 825.2Z"/>
<path class="ar" d="M598.5 827.2L608.0 825.2L608.0 829.2Z"/>
<path class="ar" d="M684.8 827.2L675.3 829.2L675.3 825.2Z"/>
<path class="ar" d="M684.8 827.2L694.3 825.2L694.3 829.2Z"/>
<path class="ar" d="M768.5 827.2L759.0 829.2L759.0 825.2Z"/>
<path d="M422.7 843.2L774.9 843.2"/>
<path class="ar" d="M422.7 843.2L432.2 841.2L432.2 845.2Z"/>
<path class="ar" d="M774.9 843.2L765.4 845.2L765.4 841.2Z"/>
<path d="M754.7 781.0L795.7 819.1L827.5 819.1"/>
</g>
<text transform="translate(595.71 588.00) scale(1.055 1)" font-family="Liberation Serif" font-size="10.68" fill="#333" stroke="#333" stroke-width="0.3">1100</text>
<text transform="translate(669.10 601.10) scale(0.941 1)" font-family="Liberation Serif" font-size="11.03" fill="#333" stroke="#333" stroke-width="0.25">42</text>
<text transform="rotate(-90 762.9 670.0) translate(755.15 673.40) scale(1.158 1)" font-family="Liberation Serif" font-size="10.30" fill="#2b2b2b" stroke="#2b2b2b" stroke-width="0.3">1.5</text>
<text transform="translate(839.78 603.00) scale(1.074 1)" font-family="Liberation Serif" font-size="10.45" fill="#333" stroke="#333" stroke-width="0.25">B1</text>
<text transform="translate(840.88 674.50) scale(1.088 1)" font-family="Liberation Serif" font-size="10.27" fill="#333" stroke="#333" stroke-width="0.25">B2</text>
<text transform="translate(840.88 691.30) scale(1.088 1)" font-family="Liberation Serif" font-size="10.12" fill="#333" stroke="#333" stroke-width="0.25">B3</text>
<text transform="rotate(-90 793.1 639.9) translate(784.13 643.50) scale(1.069 1)" font-family="Liberation Serif" font-size="10.83" fill="#2b2b2b" stroke="#2b2b2b" stroke-width="0.3">120</text>
<text transform="translate(463.43 824.90) scale(1.033 1)" font-family="Liberation Serif" font-size="11.43" fill="#333" stroke="#333" stroke-width="0.3">350</text>
<text transform="translate(547.22 823.80) scale(1.058 1)" font-family="Liberation Serif" font-size="11.43" fill="#333" stroke="#333" stroke-width="0.3">350</text>
<text transform="translate(636.56 824.30) scale(0.984 1)" font-family="Liberation Serif" font-size="11.43" fill="#333" stroke="#333" stroke-width="0.3">350</text>
<text transform="translate(720.35 824.30) scale(1.015 1)" font-family="Liberation Serif" font-size="11.43" fill="#333" stroke="#333" stroke-width="0.3">350</text>
<text transform="translate(591.54 841.90) scale(0.989 1)" font-family="Liberation Serif" font-size="11.06" fill="#333" stroke="#333" stroke-width="0.3">1417</text>
<text transform="translate(797.66 818.00) scale(1.059 1)" font-family="Liberation Serif" font-size="10.07" fill="#333" stroke="#333" stroke-width="0.25">10-</text>
<text transform="translate(812.68 818.00) scale(1.068 1)" font-family="Liberation Serif" font-size="9.77" fill="#9a9a9a">Φ</text>
<text transform="translate(821.19 818.00) scale(1.206 1)" font-family="Liberation Serif" font-size="10.23" fill="#333" stroke="#333" stroke-width="0.25">7</text>
<text x="519.98 536.76 553.62" y="872.2" font-family="'Liberation Sans', 'Noto Sans CJK SC', sans-serif" font-size="16" fill="#262626" stroke="#262626" stroke-width="0.08">嵌入式</text>
<text x="569.35" y="871.30" font-family="Liberation Serif" font-size="14.80" fill="#262626" letter-spacing="1.06">(Q)Built-in</text>
<text x="650.56" y="871.30" font-family="Liberation Serif" font-size="14.80" fill="#262626" letter-spacing="0.99">type</text>
</svg></body></html>
